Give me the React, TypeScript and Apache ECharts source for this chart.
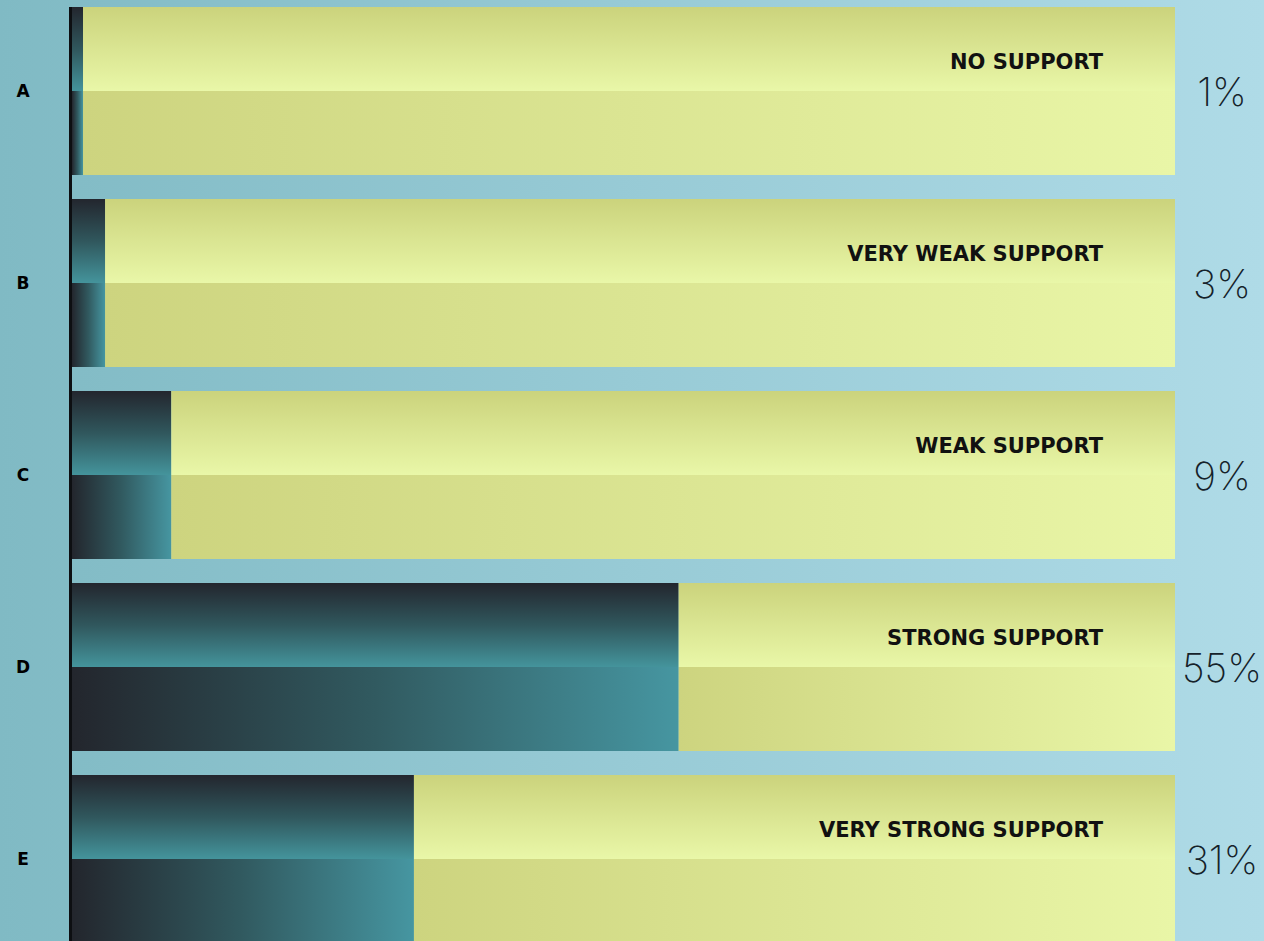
import React, { useEffect, useRef } from "react";
import * as echarts from "echarts";

const categories = ["A", "B", "C", "D", "E"];
const supportLevels = [
  "NO SUPPORT",
  "VERY WEAK SUPPORT",
  "WEAK SUPPORT",
  "STRONG SUPPORT",
  "VERY STRONG SUPPORT",
];
const shares = [1, 3, 9, 55, 31];
const total = 100;

export default function App() {
  const ref = useRef<HTMLDivElement>(null);
  useEffect(() => {
    if (!ref.current) return;
    const chart = echarts.init(ref.current, undefined, { renderer: "svg" });
    const rest = shares.map((v) => total - v);
    const vDark = new echarts.graphic.LinearGradient(0, 0, 0, 1, [
      { offset: 0, color: "#23262e" },
      { offset: 0.5, color: "#30575d" },
      { offset: 1, color: "#44949c" },
    ]);
    const hDark = new echarts.graphic.LinearGradient(0, 0, 1, 0, [
      { offset: 0, color: "#23262d" },
      { offset: 0.5, color: "#315a60" },
      { offset: 1, color: "#4696a1" },
    ]);
    const vYellow = new echarts.graphic.LinearGradient(0, 0, 0, 1, [
      { offset: 0, color: "#cbd37c" },
      { offset: 1, color: "#e9f7a8" },
    ]);
    const hYellow = new echarts.graphic.LinearGradient(0, 0, 1, 0, [
      { offset: 0, color: "#cdd47f" },
      { offset: 1, color: "#e9f6a7" },
    ]);
    const common = {
      type: "bar" as const,
      barGap: "0%",
      barCategoryGap: "12.5%",
      silent: true,
    };
    chart.setOption({
      animation: false,
      grid: { left: 72, right: 89, top: 0, bottom: 0 },
      xAxis: { type: "value", min: 0, max: total, show: false },
      yAxis: {
        type: "category",
        data: categories,
        inverse: true,
        axisLine: { show: false },
        axisTick: { show: false },
        axisLabel: {
          margin: 49,
          align: "center",
          fontFamily: "DejaVu Sans",
          fontWeight: "bold",
          fontSize: 17,
          color: "#000",
        },
      },
      graphic: [
        {
          type: "line",
          shape: { x1: 70.5, y1: 12, x2: 70.5, y2: 960 },
          style: { stroke: "#0d0f12", lineWidth: 3 },
          z: 100,
        },
      ],
      series: [
        {
          ...common,
          name: "shareTop",
          stack: "top",
          data: shares,
          itemStyle: { color: vDark },
        },
        {
          ...common,
          name: "restTop",
          stack: "top",
          data: rest,
          itemStyle: { color: vYellow },
          label: {
            show: true,
            position: "insideRight",
            distance: 72,
            offset: [0, 13],
            formatter: (p: any) => supportLevels[p.dataIndex],
            fontFamily: "DejaVu Sans",
            fontWeight: "bold",
            fontSize: 21,
            color: "#111",
          },
        },
        {
          ...common,
          name: "shareBottom",
          stack: "bottom",
          data: shares,
          itemStyle: { color: hDark },
        },
        {
          ...common,
          name: "restBottom",
          stack: "bottom",
          data: rest,
          itemStyle: { color: hYellow },
          label: {
            show: true,
            position: "right",
            distance: 47,
            align: "center",
            offset: [0, -42],
            formatter: (p: any) => shares[p.dataIndex] + "%",
            fontFamily: "Inter",
            fontWeight: 200,
            fontSize: 39,
            color: "#15222a",
          },
        },
      ],
    });
    return () => chart.dispose();
  }, []);
  return (
    <div
      ref={ref}
      style={{
        position: "fixed",
        left: 0,
        top: -5,
        width: 1264,
        height: 960,
        background: "linear-gradient(to right, #80bac4, #afdbe7)",
      }}
    />
  );
}
